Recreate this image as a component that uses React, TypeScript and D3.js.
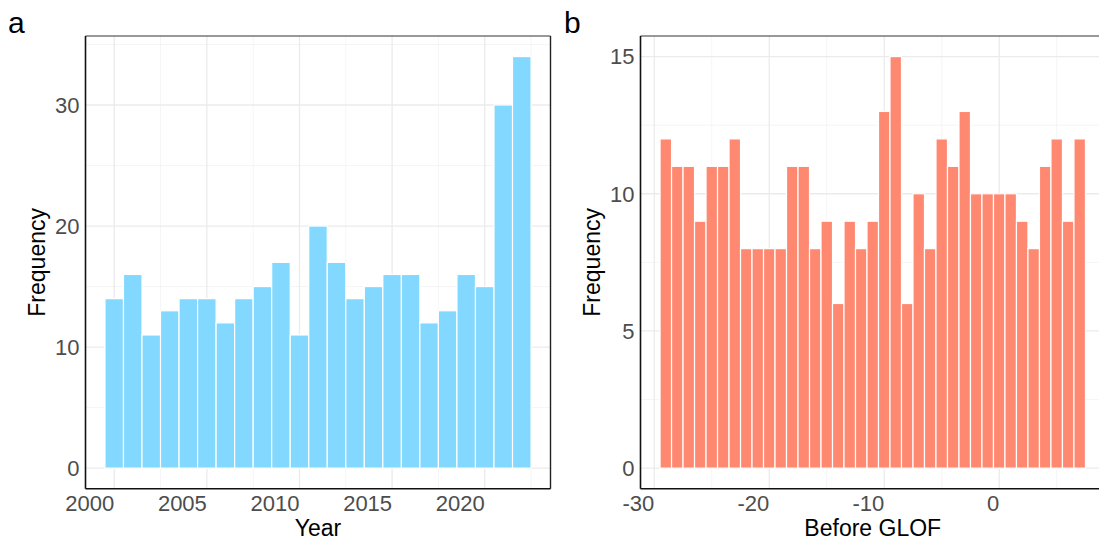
import React from 'react';
import * as d3 from 'd3';

// panel a: GLOF events per year
const years = [2000, 2001, 2002, 2003, 2004, 2005, 2006, 2007, 2008, 2009, 2010, 2011,
  2012, 2013, 2014, 2015, 2016, 2017, 2018, 2019, 2020, 2021, 2022];
const yearCounts = [14, 16, 11, 13, 14, 14, 12, 14, 15, 17, 11, 20, 17, 14, 15, 16, 16,
  12, 13, 16, 15, 30, 34];
const yearTicks = [2000, 2005, 2010, 2015, 2020];
const yearMinor = [2002.5, 2007.5, 2012.5, 2017.5, 2022.5];
const yearYTicks = [0, 10, 20, 30];
const yearYMinor = [5, 15, 25, 35];

// panel b: before GLOF
const beforeBins = [-29, -28, -27, -26, -25, -24, -23, -22, -21, -20, -19, -18, -17, -16,
  -15, -14, -13, -12, -11, -10, -9, -8, -7, -6, -5, -4, -3, -2, -1, 0, 1, 2, 3, 4, 5, 6, 7];
const beforeCounts = [12, 11, 11, 9, 11, 11, 12, 8, 8, 8, 8, 11, 11, 8, 9, 6, 9, 8, 9, 13,
  15, 6, 10, 8, 12, 11, 13, 10, 10, 10, 10, 9, 8, 11, 12, 9, 12];
const beforeTicks = [-30, -20, -10, 0];
const beforeMinor = [-25, -15, -5, 5];
const beforeYTicks = [0, 5, 10, 15];
const beforeYMinor = [2.5, 7.5, 12.5];

const font = '"Liberation Sans", Arial, sans-serif';

type PanelProps = {
  tag: string;
  tagX: number;
  bins: number[];
  counts: number[];
  xDomain: [number, number];
  yDomain: [number, number];
  left: number;
  right: number;
  xTicks: number[];
  xMinor: number[];
  yTicks: number[];
  yMinor: number[];
  fill: string;
  xTitle: string;
  clipId: string;
};

const top = 36;
const bottom = 488.7;

function Panel(p: PanelProps) {
  const x = d3.scaleLinear().domain(p.xDomain).range([p.left, p.right]);
  const y = d3.scaleLinear().domain(p.yDomain).range([bottom, top]);
  const clipRight = Math.min(p.right, 1099);
  return (
    <g fontFamily={font}>
      <text x={p.tagX} y={32.5} fontSize={30} fill="#000">{p.tag}</text>
      <defs>
        <clipPath id={p.clipId}>
          <rect x={p.left} y={top} width={clipRight - p.left} height={bottom - top} />
        </clipPath>
      </defs>
      <g clipPath={`url(#${p.clipId})`}>
        {p.yMinor.map((v) => (
          <line key={'ym' + v} x1={p.left} x2={p.right} y1={y(v)} y2={y(v)} stroke="#f3f3f3" strokeWidth={0.8} />
        ))}
        {p.xMinor.map((v) => (
          <line key={'xm' + v} x1={x(v)} x2={x(v)} y1={top} y2={bottom} stroke="#f3f3f3" strokeWidth={0.8} />
        ))}
        {p.yTicks.map((v) => (
          <line key={'yM' + v} x1={p.left} x2={p.right} y1={y(v)} y2={y(v)} stroke="#ebebeb" strokeWidth={1.3} />
        ))}
        {p.xTicks.map((v) => (
          <line key={'xM' + v} x1={x(v)} x2={x(v)} y1={top} y2={bottom} stroke="#ebebeb" strokeWidth={1.3} />
        ))}
        {p.bins.map((b, i) => (
          <rect
            key={b}
            x={x(b - 0.5)}
            width={x(b + 0.5) - x(b - 0.5)}
            y={y(p.counts[i])}
            height={y(0) - y(p.counts[i])}
            fill={p.fill}
            stroke="#ffffff"
            strokeWidth={1.2}
          />
        ))}
      </g>
      {/* panel border */}
      <line x1={p.left} x2={clipRight} y1={top} y2={top} stroke="#333" strokeWidth={1} />
      {p.right <= 1099 && (
        <line x1={p.right} x2={p.right} y1={top} y2={bottom} stroke="#222" strokeWidth={1.4} />
      )}
      <line x1={p.left} x2={p.left} y1={top} y2={bottom} stroke="#111" strokeWidth={1.6} />
      <line x1={p.left} x2={clipRight} y1={bottom} y2={bottom} stroke="#111" strokeWidth={1.6} />
      {/* axis labels */}
      {p.yTicks.map((v) => (
        <text key={'yl' + v} x={p.left - 6} y={y(v)} dy="0.36em" textAnchor="end" fontSize={22} fill="#4d4d4d">
          {v}
        </text>
      ))}
      {p.xTicks.map((v) => (
        <text key={'xl' + v} x={x(v)} y={511} textAnchor="end" fontSize={22} fill="#4d4d4d">
          {v}
        </text>
      ))}
      <text x={(p.left + p.right) / 2} y={536} textAnchor="middle" fontSize={23} fill="#000">
        {p.xTitle}
      </text>
      <text
        transform={`translate(${p.left - 40.5},${(top + bottom) / 2}) rotate(-90)`}
        textAnchor="middle"
        fontSize={23}
        fill="#000"
      >
        Frequency
      </text>
    </g>
  );
}

export default function App() {
  return (
    <svg width={1099} height={542} style={{ position: 'absolute', left: 0, top: 0, background: '#fff' }}>
      <rect width={1099} height={542} fill="#fff" />
      <Panel
        tag="a"
        tagX={8}
        bins={years}
        counts={yearCounts}
        xDomain={[1998.45, 2023.55]}
        yDomain={[-1.7, 35.7]}
        left={85.5}
        right={550.5}
        xTicks={yearTicks}
        xMinor={yearMinor}
        yTicks={yearYTicks}
        yMinor={yearYMinor}
        fill="#82d8ff"
        xTitle="Year"
        clipId="clipA"
      />
      <Panel
        tag="b"
        tagX={564}
        bins={beforeBins}
        counts={beforeCounts}
        xDomain={[-31.2, 9.2]}
        yDomain={[-0.75, 15.75]}
        left={640.5}
        right={1105}
        xTicks={beforeTicks}
        xMinor={beforeMinor}
        yTicks={beforeYTicks}
        yMinor={beforeYMinor}
        fill="#ff8870"
        xTitle="Before GLOF"
        clipId="clipB"
      />
    </svg>
  );
}
